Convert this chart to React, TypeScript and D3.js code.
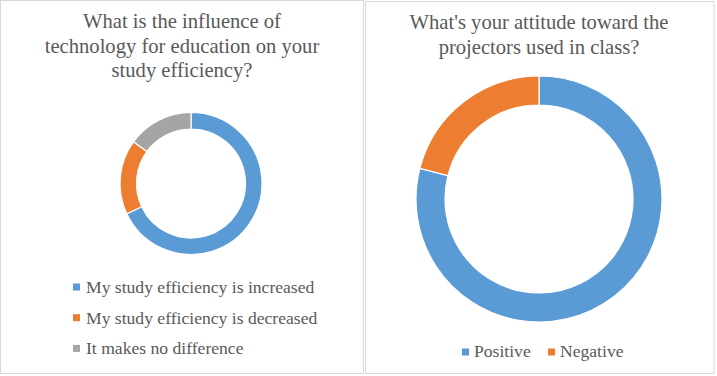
import React from "react";
import * as d3 from "d3";

const leftTitle = ["What is the influence of", "technology for education on your", "study efficiency?"];
const leftCategories = ["My study efficiency is increased", "My study efficiency is decreased", "It makes no difference"];
const leftValues = [68, 17, 15];

const rightTitle = ["What's your attitude toward the", "projectors used in class?"];
const rightCategories = ["Positive", "Negative"];
const rightValues = [79, 21];

const colors = ["#5B9BD5", "#ED7D31", "#A5A5A5"];
const textColor = "#595959";
const font = "'Liberation Serif', 'Times New Roman', serif";

function Donut({ values, cx, cy, outer, inner }: { values: number[]; cx: number; cy: number; outer: number; inner: number }) {
  const pie = d3.pie<number>().sort(null).value((d) => d);
  const arc = d3.arc<d3.PieArcDatum<number>>().innerRadius(inner).outerRadius(outer);
  return (
    <g transform={`translate(${cx},${cy})`}>
      {pie(values).map((a, i) => (
        <path key={i} d={arc(a) || ""} fill={colors[i]} stroke="#fff" strokeWidth={1.2} />
      ))}
    </g>
  );
}

export default function App() {
  const ts = { fontFamily: font };
  return (
    <svg width={717} height={376} style={{ position: "absolute", left: 0, top: 0, background: "#fff" }}>
      <rect x={0.5} y={0.5} width={363} height={373} fill="#fff" stroke="#D9D9D9" />
      <rect x={365.5} y={1.5} width={348.5} height={372} fill="#fff" stroke="#D9D9D9" />

      {leftTitle.map((t, i) => (
        <text key={i} style={ts} x={182} y={28 + i * 24.7} textAnchor="middle" fontSize={20.6} fill={textColor}>{t}</text>
      ))}
      <Donut values={leftValues} cx={191} cy={183.5} outer={71} inner={54.5} />
      {leftCategories.map((c, i) => (
        <g key={i}>
          <rect x={73} y={283.5 + i * 30.7} width={7} height={7} fill={colors[i]} />
          <text style={ts} x={86} y={293 + i * 30.7} fontSize={17.6} fill={textColor}>{c}</text>
        </g>
      ))}

      {rightTitle.map((t, i) => (
        <text key={i} style={ts} x={539} y={29 + i * 24.5} textAnchor="middle" fontSize={20.6} fill={textColor}>{t}</text>
      ))}
      <Donut values={rightValues} cx={539} cy={199} outer={123} inner={94} />
      {rightCategories.map((c, i) => {
        const xs = [462, 548];
        return (
          <g key={i}>
            <rect x={xs[i]} y={348.5} width={7} height={7} fill={colors[i]} />
            <text style={ts} x={xs[i] + 12} y={357} fontSize={17.6} fill={textColor}>{c}</text>
          </g>
        );
      })}
    </svg>
  );
}
